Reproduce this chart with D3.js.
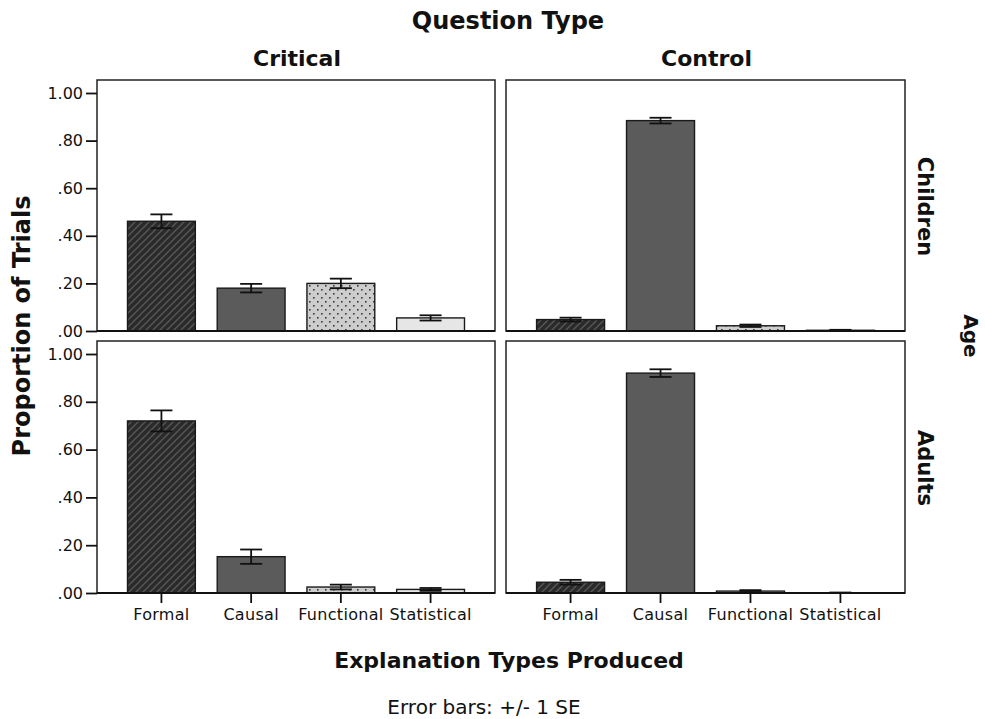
<!DOCTYPE html>
<html>
<head>
<meta charset="utf-8">
<script src="https://cdn.jsdelivr.net/npm/d3@7"></script>
<style>
  body { margin: 0; background: #fff; }
  svg { display: block; }
  text { font-family: "DejaVu Sans", sans-serif; fill: #111; }
</style>
</head>
<body>
<svg id="chart" width="985" height="719"></svg>
<script>
// ---- data ----
const categories = ["Formal", "Causal", "Functional", "Statistical"];
const questionTypes = ["Critical", "Control"];
const ages = ["Children", "Adults"];
const yTicks = [0, 0.2, 0.4, 0.6, 0.8, 1.0];
const yTickLabels = [".00", ".20", ".40", ".60", ".80", "1.00"];

const childrenCritical   = [0.461, 0.180, 0.200, 0.055];
const childrenCriticalSE = [0.029, 0.018, 0.020, 0.011];
const childrenControl    = [0.048, 0.884, 0.022, 0.003];
const childrenControlSE  = [0.008, 0.012, 0.005, 0.002];
const adultsCritical     = [0.720, 0.152, 0.025, 0.015];
const adultsCriticalSE   = [0.044, 0.030, 0.010, 0.006];
const adultsControl      = [0.045, 0.920, 0.008, 0.001];
const adultsControlSE    = [0.010, 0.016, 0.004, 0.001];

const panelData = [
  { age: "Children", q: "Critical", values: childrenCritical, se: childrenCriticalSE },
  { age: "Children", q: "Control",  values: childrenControl,  se: childrenControlSE },
  { age: "Adults",   q: "Critical", values: adultsCritical,   se: adultsCriticalSE },
  { age: "Adults",   q: "Control",  values: adultsControl,    se: adultsControlSE }
];

// ---- layout ----
const svg = d3.select("#chart");
const colX = { Critical: [97, 495], Control: [506, 905] };
const rowY = { Children: [80, 331], Adults: [341, 593] };
const topPad = 13;

const defs = svg.append("defs");
// Formal: dark with diagonal hatch
const pf = defs.append("pattern").attr("id", "pFormal").attr("patternUnits", "userSpaceOnUse")
  .attr("width", 7).attr("height", 7);
pf.append("rect").attr("width", 7).attr("height", 7).attr("fill", "#2a2a2a");
pf.append("path").attr("d", "M-1,8 L8,-1 M-1,1 L1,-1 M6,8 L8,6").attr("stroke", "#585858").attr("stroke-width", 1.3);
// Functional: light grey with dots
const pd = defs.append("pattern").attr("id", "pFunctional").attr("patternUnits", "userSpaceOnUse")
  .attr("width", 8).attr("height", 8);
pd.append("rect").attr("width", 8).attr("height", 8).attr("fill", "#cdcdcd");
pd.append("rect").attr("x", 1).attr("y", 1).attr("width", 1.6).attr("height", 1.6).attr("fill", "#3a3a3a");
pd.append("rect").attr("x", 5).attr("y", 5).attr("width", 1.6).attr("height", 1.6).attr("fill", "#3a3a3a");

const fills = ["url(#pFormal)", "#5b5b5b", "url(#pFunctional)", "#e6e6e6"];

panelData.forEach(p => {
  const [x0, x1] = colX[p.q];
  const [y0, y1] = rowY[p.age];
  const x = d3.scaleBand().domain(categories).range([x0, x1]).paddingInner(0.244).paddingOuter(0.34);
  const y = d3.scaleLinear().domain([0, 1]).range([y1, y0 + topPad]);
  const g = svg.append("g");

  // panel frame
  g.append("rect").attr("x", x0).attr("y", y0).attr("width", x1 - x0).attr("height", y1 - y0)
    .attr("fill", "none").attr("stroke", "#222").attr("stroke-width", 1.5);

  // bars
  g.selectAll("rect.bar").data(categories).join("rect").attr("class", "bar")
    .attr("x", d => x(d)).attr("width", x.bandwidth())
    .attr("y", (d, i) => y(p.values[i]))
    .attr("height", (d, i) => y(0) - y(p.values[i]))
    .attr("fill", (d, i) => fills[i])
    .attr("stroke", "#1a1a1a").attr("stroke-width", 1.4);

  // error bars
  const cap = 11;
  categories.forEach((c, i) => {
    const cx = x(c) + x.bandwidth() / 2;
    const hi = y(p.values[i] + p.se[i]);
    const lo = y(Math.max(0, p.values[i] - p.se[i]));
    g.append("line").attr("x1", cx).attr("x2", cx).attr("y1", hi).attr("y2", lo)
      .attr("stroke", "#111").attr("stroke-width", 1.8);
    g.append("line").attr("x1", cx - cap).attr("x2", cx + cap).attr("y1", hi).attr("y2", hi)
      .attr("stroke", "#111").attr("stroke-width", 1.8);
    g.append("line").attr("x1", cx - cap).attr("x2", cx + cap).attr("y1", lo).attr("y2", lo)
      .attr("stroke", "#111").attr("stroke-width", 1.8);
  });

  // baseline
  g.append("line").attr("x1", x0).attr("x2", x1).attr("y1", y1).attr("y2", y1)
    .attr("stroke", "#111").attr("stroke-width", 2.2);

  // y axis for left column
  if (p.q === "Critical") {
    const ax = d3.axisLeft(y).tickValues(yTicks).tickSize(11).tickPadding(3)
      .tickFormat((d, i) => yTickLabels[i]);
    const ag = svg.append("g").attr("transform", `translate(${x0},0)`).call(ax);
    ag.select(".domain").remove();
    ag.selectAll(".tick line").attr("stroke", "#111").attr("stroke-width", 1.8);
    ag.selectAll(".tick text").attr("font-size", 16).attr("fill", "#111")
      .attr("font-family", "DejaVu Sans, sans-serif");
  }
  // x axis for bottom row
  if (p.age === "Adults") {
    const ax = d3.axisBottom(x).tickSize(10).tickPadding(6);
    const ag = svg.append("g").attr("transform", `translate(0,${y1})`).call(ax);
    ag.select(".domain").remove();
    ag.selectAll(".tick line").attr("stroke", "#111").attr("stroke-width", 1.8);
    ag.selectAll(".tick text").attr("font-size", 16).attr("fill", "#111")
      .attr("font-family", "DejaVu Sans, sans-serif").attr("letter-spacing", 0.3);
  }
});

// column headers
questionTypes.forEach(q => {
  const [x0, x1] = colX[q];
  svg.append("text").attr("x", (x0 + x1) / 2 + 1).attr("y", 66).attr("text-anchor", "middle")
    .attr("font-size", 22).attr("font-weight", "bold").text(q);
});
// row headers
ages.forEach(a => {
  const [y0, y1] = rowY[a];
  const cy = (y0 + y1) / 2 + 1;
  svg.append("text").attr("transform", `translate(918,${cy}) rotate(90)`).attr("text-anchor", "middle")
    .attr("font-size", 21).attr("font-weight", "bold").text(a);
});

// titles
svg.append("text").attr("x", 508).attr("y", 29).attr("text-anchor", "middle")
  .attr("font-size", 24).attr("font-weight", "bold").text("Question Type");
svg.append("text").attr("transform", "translate(964,336) rotate(90)").attr("text-anchor", "middle")
  .attr("font-size", 20).attr("font-weight", "bold").text("Age");
svg.append("text").attr("transform", "translate(30,326) rotate(-90)").attr("text-anchor", "middle")
  .attr("font-size", 24).attr("font-weight", "bold").text("Proportion of Trials");
svg.append("text").attr("x", 509).attr("y", 668).attr("text-anchor", "middle")
  .attr("font-size", 22).attr("font-weight", "bold").text("Explanation Types Produced");
svg.append("text").attr("x", 484).attr("y", 714).attr("text-anchor", "middle")
  .attr("font-size", 20).text("Error bars: +/- 1 SE");
</script>
</body>
</html>
